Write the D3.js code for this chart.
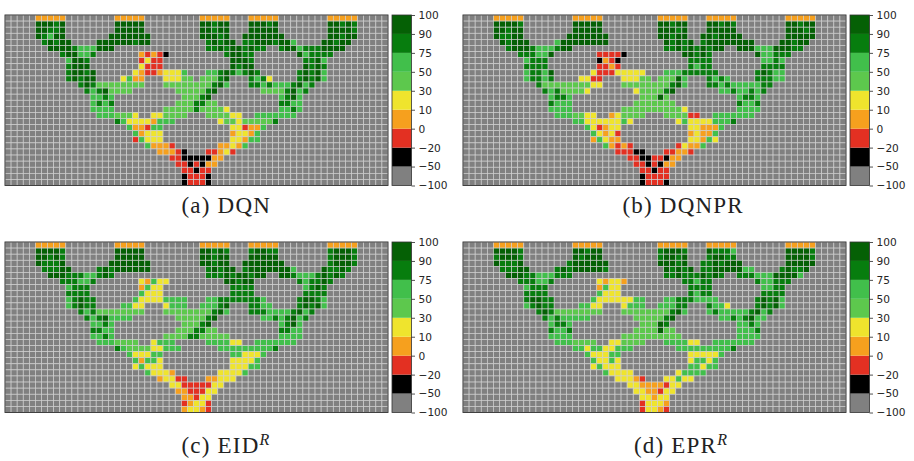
<!DOCTYPE html>
<html>
<head>
<meta charset="utf-8">
<script src="https://cdn.jsdelivr.net/npm/d3@7"></script>
<style>
  html, body { margin: 0; padding: 0; background: #fff; }
  svg { display: block; }
  .tick text { font-family: "DejaVu Sans", sans-serif; font-size: 10.6px; fill: #262626; }
  .caption { font-family: "Liberation Serif", serif; font-size: 23px; fill: #222; letter-spacing: 1.2px; }
</style>
</head>
<body>
<div id="chart"></div>
<script>
// colour classes
const bounds = [-50, -20, 0, 10, 30, 50, 75, 90];
const tickValues = [-100, -50, -20, 0, 10, 30, 50, 75, 90, 100];
const colors = ["#808080", "#000000", "#e33022", "#f6a01e", "#efe42d", "#5dc84d", "#41bf4b", "#077d0e", "#056005"];
// value read for each letter in the rows below (background cells are bgValue)
const letterValue = { k: -35, r: -10, o: 5, y: 20, l: 40, G: 60, d: 80, D: 95 };
const bgValue = -75;
const nCols = 63, nRows = 28;

const goalRow = [[5, "ooooo"], [18, "ooooo"], [32, "ooooo"], [40, "ooooo"], [53, "ooooo"]];

const dqnRows = [
  goalRow,
  [[5, "DDDdD"], [18, "DDDDD"], [32, "DDdDD"], [40, "DDDdD"], [53, "DDdDd"]],
  [[5, "DDddD"], [18, "DDDDD"], [32, "DDdDD"], [40, "DDDDD"], [53, "DDDDd"]],
  [[5, "DdGDD"], [17, "DDDDDDD"], [32, "DDDdD"], [39, "DDDDDDD"], [53, "DDdDD"]],
  [[6, "dDdDD"], [15, "DDDDDDdDD"], [33, "dDdDD"], [39, "ddDDDdDDG"], [52, "DDdDD"]],
  [[7, "DDDDdGGG"], [15, "DDD"], [33, "ddDdDDdDdd"], [45, "dDDGdddDDDD"]],
  [[9, "dDDGGd"], [22, "orork"], [36, "dDDdd"], [48, "DGdddd"]],
  [[10, "GDDd"], [22, "ryrr"], [37, "DDDd"], [49, "ddDG"]],
  [[10, "dDDD"], [22, "yrrr"], [37, "DdDD"], [49, "DdDd"]],
  [[10, "dDDdD"], [21, "yorroyyyG"], [33, "GGdDdGdDd"], [48, "dDdDG"]],
  [[10, "dDdDD"], [19, "yGoo"], [26, "yyyll"], [32, "llldD"], [40, "dGdy"], [48, "dDdDG"]],
  [[12, "dDdllllllll"], [26, "llllllll"], [34, "dDG"], [40, "ddGdGGGdDGd"]],
  [[13, "dGdDllll"], [28, "lllll"], [33, "dD"], [42, "lllldDGd"]],
  [[14, "GGdG"], [29, "lll"], [32, "dD"], [45, "GdDG"]],
  [[14, "GdGd"], [28, "llldd"], [33, "ll"], [45, "ddGG"]],
  [[14, "GGGG"], [26, "llllldllll"], [36, "y"], [45, "GGdG"]],
  [[15, "GGGlll"], [21, "y"], [24, "yyllll"], [33, "llllyy"], [41, "GGGGGGG"]],
  [[18, "dGyyyyoGGG"], [35, "yllyllllld"]],
  [[20, "GoorGG"], [37, "yyrooG"]],
  [[21, "Goyyy"], [37, "oyyoG"]],
  [[21, "rGyyy"], [37, "yyoGG"]],
  [[23, "Gooor"], [35, "ooyoG"]],
  [[25, "ooork"], [33, "rroyr"]],
  [[27, "rrkkkkkoo"]],
  [[28, "rrkrkoo"]],
  [[29, "rrkrr"]],
  [[29, "krrrk"]],
  [[29, "krrrk"]]
];

const dqnprRows = [
  goalRow,
  [[5, "DDDDd"], [18, "DDDDD"], [32, "DDdDD"], [40, "DDdDd"], [53, "DDdDD"]],
  [[5, "DDdDD"], [18, "DDDDD"], [32, "DDDdD"], [40, "DDDDD"], [53, "DDDdD"]],
  [[5, "DddDD"], [17, "DDDDDDD"], [32, "DDdDD"], [39, "DDdDDDD"], [53, "DDDDD"]],
  [[6, "DdDDD"], [15, "GDDDDDDDD"], [33, "DdDdD"], [39, "dDDDDDDDD"], [52, "DDdDD"]],
  [[7, "dDDDdGGG"], [15, "dDD"], [33, "ddDdDdDdDD"], [45, "DDDGGGDDDdd"]],
  [[9, "ddd"], [12, "GGD"], [22, "rrrrk"], [36, "DDdDd"], [48, "DGGddd"]],
  [[10, "Gddd"], [22, "kork"], [37, "dddd"], [49, "GGdG"]],
  [[10, "dddd"], [22, "rror"], [37, "dGdd"], [49, "dddd"]],
  [[10, "GddGD"], [21, "yrrryyyyy"], [33, "GGGdddddd"], [48, "dDdGG"]],
  [[10, "GddGd"], [19, "yyrr"], [26, "yyyll"], [32, "lllDG"], [40, "dGdG"], [48, "dddGG"]],
  [[12, "dllllllll"], [21, "yy"], [26, "llllllll"], [34, "dDG"], [40, "ddGdGGGGGdd"]],
  [[13, "dGdllll"], [20, "y"], [28, "yllll"], [33, "dD"], [42, "GGdGGdGd"]],
  [[14, "GddG"], [29, "lllDl"], [45, "GddG"]],
  [[14, "dGGG"], [28, "lllllll"], [45, "dGGd"]],
  [[14, "GGGG"], [26, "llllllllll"], [36, "y"], [45, "GGGG"]],
  [[15, "GGGll"], [20, "yy"], [24, "oyllll"], [33, "llllrr"], [41, "GGGGGGG"]],
  [[18, "GGyyyyyyGy"], [35, "yGyyyyGGGd"]],
  [[20, "Gyroyy"], [37, "yyoooG"]],
  [[21, "Gyoyr"], [37, "oyooG"]],
  [[21, "oGyoo"], [37, "yyoGy"]],
  [[23, "Goror"], [35, "ryooG"]],
  [[25, "rrrkk"], [33, "rroor"]],
  [[27, "rrkkrrkoo"]],
  [[28, "rrkrkoo"]],
  [[29, "rrkrr"]],
  [[29, "krrrr"]],
  [[29, "krrrk"]]
];

const eidRows = [
  goalRow,
  [[5, "DDDDd"], [18, "DDDDD"], [32, "DDdDd"], [40, "dDDdd"], [53, "dDDDd"]],
  [[5, "DDdDd"], [18, "DDDDD"], [32, "DDdDD"], [40, "DDDDD"], [53, "dDDDd"]],
  [[5, "DdddD"], [17, "DDDDDDD"], [32, "DDdDD"], [39, "DDDDDDD"], [53, "dDDDd"]],
  [[6, "dddDD"], [15, "dDdDDDDDD"], [33, "dDdDD"], [39, "dDDDDDDDG"], [52, "DddDd"]],
  [[7, "DDDdddGG"], [15, "dDd"], [33, "dddDdDDdDD"], [45, "DDdGGGdDdDd"]],
  [[9, "dddGGd"], [22, "yoGyy"], [36, "DDdDD"], [48, "dGddDd"]],
  [[10, "Gddd"], [22, "oGyy"], [37, "dddd"], [49, "GdDd"]],
  [[10, "dddd"], [22, "Gyyy"], [37, "dddd"], [49, "dddd"]],
  [[10, "GdDdd"], [21, "GyyyyGGGG"], [33, "GGdddddddG"], [48, "dDDdG"]],
  [[10, "GdDdd"], [19, "GGyy"], [26, "yGGG"], [32, "GGGdD"], [40, "ddGG"], [48, "dDdDG"]],
  [[12, "dGdllllllll"], [26, "llllllll"], [34, "dDG"], [40, "dddGGGGdDGd"]],
  [[13, "dGdDGGGG"], [28, "lllll"], [33, "dD"], [42, "GGdGdDGd"]],
  [[14, "GGdG"], [29, "lll"], [32, "dD"], [45, "GdDG"]],
  [[14, "ddGG"], [28, "llldd"], [33, "ll"], [45, "ddGG"]],
  [[14, "GGdG"], [26, "llllddlllll"], [45, "GGGG"]],
  [[15, "GGGllll"], [24, "yGGG"], [33, "GGGGyy"], [41, "GGGGGGG"]],
  [[18, "dGllllyyGGG"], [35, "GGGGGGGGGd"]],
  [[20, "GyyyGG"], [37, "GGyyyG"]],
  [[21, "GoGGy"], [37, "yyyyG"]],
  [[21, "yGyyy"], [37, "yyyGG"]],
  [[23, "Gyyyo"], [35, "yyyyG"]],
  [[25, "oyyrr"], [33, "ooyyy"]],
  [[27, "yyrrrrr"], [34, "yy"]],
  [[28, "oorrryy"]],
  [[29, "ooryy"]],
  [[29, "royyr"]],
  [[29, "oyyor"]]
];

const eprRows = [
  goalRow,
  [[5, "DDDDd"], [18, "DDdDD"], [32, "dDDDd"], [40, "DdddG"], [53, "DDDDd"]],
  [[5, "dDDDd"], [18, "DdDDD"], [32, "dDDdD"], [40, "dDDdd"], [53, "DDDDd"]],
  [[5, "DdddD"], [17, "dDDDDDD"], [32, "DDDdD"], [39, "ddDdDDD"], [53, "DDDDD"]],
  [[6, "dddDD"], [15, "dDdDDDDDd"], [33, "DdDdD"], [39, "ddDDDDD"], [46, "GG"], [52, "dDddD"]],
  [[7, "DDDddGGG"], [15, "ddd"], [33, "ddDdddDdDd"], [45, "dddGGGDDDDG"]],
  [[9, "dddGGd"], [22, "yoyyo"], [36, "ddGdd"], [48, "dGGddd"]],
  [[10, "Gddd"], [22, "oGyy"], [37, "dddd"], [49, "GGdd"]],
  [[10, "dddd"], [22, "Gyyy"], [37, "dGdd"], [49, "dddd"]],
  [[10, "dDDdd"], [21, "Gyyyyyy"], [28, "GG"], [33, "GGdddGGGG"], [48, "dDdDG"]],
  [[10, "GdDdd"], [19, "GGyy"], [26, "yGGG"], [32, "GGGdd"], [40, "dGGy"], [48, "dDdDG"]],
  [[12, "dDdllllllll"], [26, "llllllll"], [34, "dDG"], [40, "GdGGGGGdDGd"]],
  [[13, "dGdGGGGG"], [28, "lllll"], [33, "dD"], [42, "GGdGdDGG"]],
  [[14, "GddG"], [29, "lllDd"], [45, "GGdG"]],
  [[14, "dGGd"], [28, "llllDll"], [45, "GGGd"]],
  [[14, "GGGG"], [26, "llllllllll"], [45, "GGGG"]],
  [[15, "GGGllll"], [24, "yyllll"], [33, "GGGGyy"], [41, "GGGGGGG"]],
  [[18, "GGyGGyyGGG"], [35, "GGGGGGGGGd"]],
  [[20, "GyyyGG"], [37, "yyyyyG"]],
  [[21, "GyyGy"], [37, "yGGyG"]],
  [[21, "yGyyy"], [37, "GGyGG"]],
  [[23, "Gyyyy"], [35, "yGGGG"]],
  [[25, "yyyor"], [33, "yyGyy"]],
  [[27, "yyooooryy"]],
  [[28, "yyooryy"]],
  [[29, "yyoyy"]],
  [[29, "ryyyo"]],
  [[29, "ryyor"]]
];

const panels = [
  { rows: dqnRows, left: 5, top: 15, label: "(a) DQN", sup: null, capX: 181.5, capY: 213 },
  { rows: dqnprRows, left: 463, top: 15, label: "(b) DQNPR", sup: null, capX: 622.5, capY: 213 },
  { rows: eidRows, left: 5, top: 242, label: "(c) EID", sup: "R", capX: 181.5, capY: 453 },
  { rows: eprRows, left: 463, top: 242, label: "(d) EPR", sup: "R", capX: 634, capY: 453 }
];

const gridW = 383, gridH = 170.5;

const color = d3.scaleThreshold().domain(bounds).range(colors);

const svg = d3.select("#chart").append("svg")
  .attr("width", 914)
  .attr("height", 461);

panels.forEach(p => {
  // Expand the row segments into single cells
  const cells = [];
  d3.range(nRows).forEach(r => {
    d3.range(nCols).forEach(c => cells.push({ r, c, value: bgValue }));
  });
  p.rows.forEach((segments, r) => {
    segments.forEach(([start, letters]) => {
      letters.split("").forEach((ch, i) => {
        cells[r * nCols + start + i].value = letterValue[ch];
      });
    });
  });

  const x = d3.scaleBand().domain(d3.range(nCols)).range([p.left, p.left + gridW]);
  const y = d3.scaleBand().domain(d3.range(nRows)).range([p.top, p.top + gridH]);

  svg.append("g").selectAll("rect")
    .data(cells)
    .join("rect")
    .attr("x", d => x(d.c))
    .attr("y", d => y(d.r))
    .attr("width", x.bandwidth())
    .attr("height", y.bandwidth())
    .attr("fill", d => color(d.value))
    .attr("stroke", "#d0d0d0")
    .attr("stroke-width", 0.65);

  svg.append("rect")
    .attr("x", p.left)
    .attr("y", p.top)
    .attr("width", gridW)
    .attr("height", gridH)
    .attr("fill", "none")
    .attr("stroke", "#333")
    .attr("stroke-width", 0.9);

  // Colorbar, evenly spaced bands
  const cbX = p.left + gridW + 4;
  const cbW = 19.5;
  const cbScale = d3.scalePoint()
    .domain(tickValues)
    .range([p.top + gridH, p.top]);

  svg.append("g").selectAll("rect")
    .data(colors)
    .join("rect")
    .attr("x", cbX)
    .attr("y", (d, i) => cbScale(tickValues[i + 1]))
    .attr("width", cbW)
    .attr("height", (d, i) => cbScale(tickValues[i]) - cbScale(tickValues[i + 1]))
    .attr("fill", d => d);

  svg.append("rect")
    .attr("x", cbX)
    .attr("y", p.top)
    .attr("width", cbW)
    .attr("height", gridH)
    .attr("fill", "none")
    .attr("stroke", "#333")
    .attr("stroke-width", 0.8);

  const axis = svg.append("g")
    .attr("transform", `translate(${cbX + cbW}, 0)`)
    .call(d3.axisRight(cbScale).tickSize(3.5).tickPadding(3.5)
      .tickFormat(d => String(d).replace("-", "\u2212")));
  axis.select(".domain").remove();
  axis.selectAll(".tick line").attr("stroke", "#262626").attr("stroke-width", 0.8);

  // Caption
  const cap = svg.append("text")
    .attr("class", "caption")
    .attr("x", p.capX)
    .attr("y", p.capY)
    .text(p.label);
  if (p.sup) {
    cap.append("tspan")
      .attr("dy", -8)
      .attr("font-size", 16)
      .attr("font-style", "italic")
      .text(p.sup);
  }
});
</script>
</body>
</html>
